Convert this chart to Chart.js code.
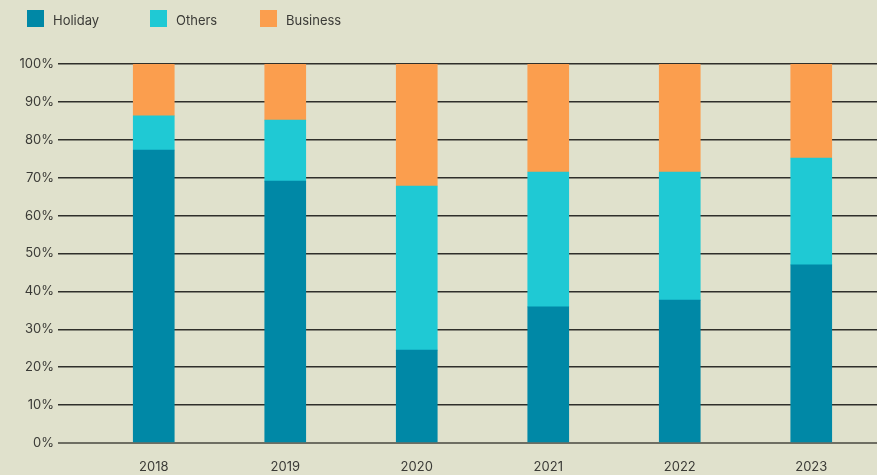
<!DOCTYPE html>
<html>
<head>
<meta charset="utf-8">
<script src="https://cdn.jsdelivr.net/npm/chart.js@4/dist/chart.umd.min.js"></script>
<style>
  html, body { margin: 0; padding: 0; background: #e0e1cc; }
  #wrap { position: relative; width: 877px; height: 475px; }
  #legend { position: absolute; left: 27px; top: 10px; font-family: Inter, "Noto Sans", sans-serif; font-size: 13px; color: #3a3a36; }
  #legend span.item { position: absolute; top: 0; white-space: nowrap; line-height: 17px; }
  #legend span.box { display: inline-block; width: 17px; height: 17px; vertical-align: top; margin-right: 9px; }
  #legend span.txt { display: inline-block; padding-top: 2px; }
</style>
</head>
<body>
<div id="wrap">
  <canvas id="chart" width="877" height="475"></canvas>
  <div id="legend"></div>
</div>
<script>
var years = ['2018', '2019', '2020', '2021', '2022', '2023'];
var holiday = [77.3, 69.1, 24.5, 35.9, 37.7, 47.0];
var others = [9.0, 16.1, 43.3, 35.6, 33.8, 28.2];
var business = [13.7, 14.8, 32.2, 28.5, 28.5, 24.8];

var names = ['Holiday', 'Others', 'Business'];
var colors = ['#0088a6', '#1fc9d4', '#fb9e4e'];
var legendX = [0, 123, 233];

// légende en HTML
var legend = document.getElementById('legend');
names.forEach(function (name, i) {
    var item = document.createElement('span');
    item.className = 'item';
    item.style.left = legendX[i] + 'px';
    item.innerHTML = '<span class="box" style="background:' + colors[i] + '"></span><span class="txt">' + name + '</span>';
    legend.appendChild(item);
});

var data = {
    labels: years,
    datasets: [
        { label: names[0], data: holiday, backgroundColor: colors[0] },
        { label: names[1], data: others, backgroundColor: colors[1] },
        { label: names[2], data: business, backgroundColor: colors[2] }
    ]
};

var ctx = document.getElementById('chart').getContext('2d');
var myChart = new Chart(ctx, {
    type: 'bar',
    data: data,
    options: {
        responsive: false,
        animation: false,
        layout: { padding: { top: 64, right: 0, left: 0, bottom: 0 } },
        datasets: { bar: { barThickness: 41 } },
        plugins: {
            legend: { display: false },
            tooltip: { enabled: false }
        },
        scales: {
            x: {
                stacked: true,
                afterFit: function (scale) { scale.height = 32; },
                grid: { display: false },
                border: { display: false },
                ticks: {
                    color: '#3a3a36',
                    padding: 8,
                    font: { family: 'Inter', size: 13 }
                }
            },
            y: {
                stacked: true,
                min: 0,
                max: 100,
                afterFit: function (scale) { scale.width = 88; },
                border: { display: false },
                grid: {
                    tickLength: 30,
                    color: function (c) { return c.index === 0 ? '#6e6e62' : '#2f2f2a'; },
                    lineWidth: function (c) { return c.index === 0 ? 2 : 1.5; }
                },
                ticks: {
                    stepSize: 10,
                    padding: 4,
                    color: '#3a3a36',
                    font: { family: 'Inter', size: 13 },
                    callback: function (v) { return v + '%'; }
                }
            }
        }
    }
});
</script>
</body>
</html>
